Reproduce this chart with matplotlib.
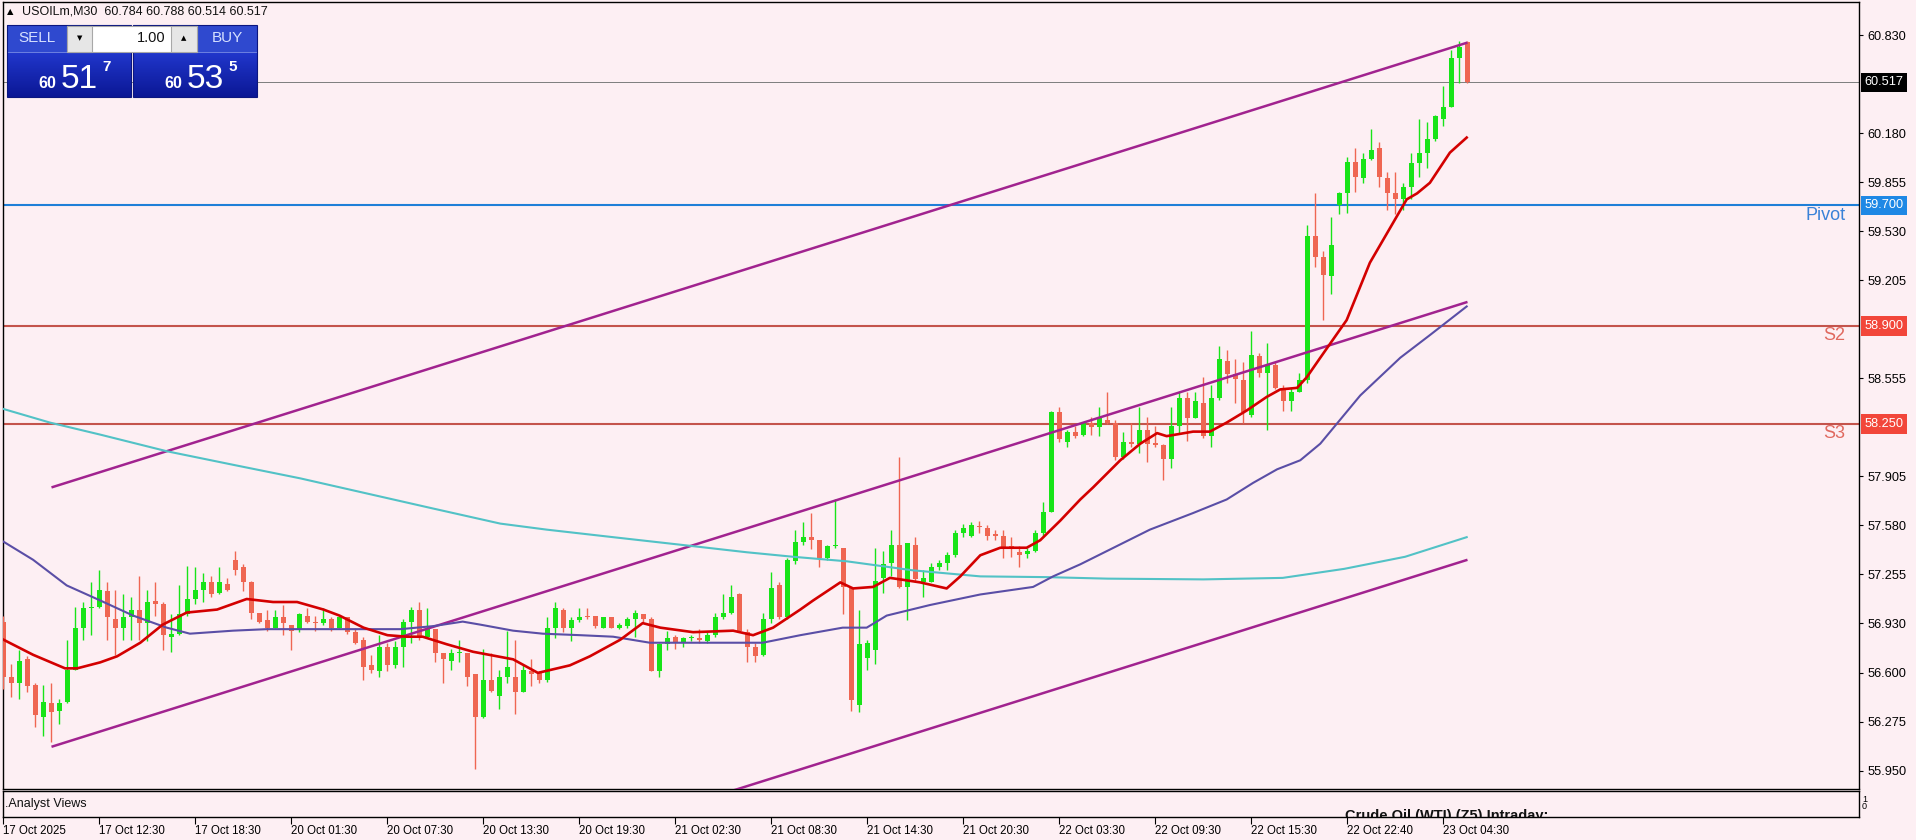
import numpy as np
import matplotlib
matplotlib.use("Agg")
import matplotlib.pyplot as plt
import matplotlib.transforms as mtransforms
from matplotlib.patches import Rectangle
from matplotlib.colors import LinearSegmentedColormap

plt.rcParams['font.family'] = ['Liberation Sans', 'DejaVu Sans']

# ---------------- data ----------------
symbol = "USOILm"
timeframe = "M30"

opens = [56.94, 56.57, 56.53, 56.69, 56.52, 56.31, 56.40, 56.35, 56.41, 56.62,
         56.90, 57.03, 57.04, 57.14, 56.96, 56.90, 56.97, 57.02, 56.93, 57.08,
         57.06, 56.84, 56.86, 56.99, 57.09, 57.15, 57.20, 57.13, 57.19, 57.35,
         57.30, 57.20, 57.00, 56.95, 56.90, 56.97, 56.92, 56.89, 56.98, 56.94,
         56.93, 56.96, 56.90, 56.97, 56.87, 56.82, 56.65, 56.61, 56.77, 56.65,
         56.77, 56.94, 57.02, 56.84, 56.89, 56.73, 56.68, 56.73, 56.73, 56.59,
         56.31, 56.55, 56.45, 56.57, 56.57, 56.47, 56.61, 56.60, 56.55, 56.90,
         57.02, 56.90, 56.95, 56.98, 56.98, 56.90, 56.97, 56.90, 56.91, 56.96,
         56.99, 56.96, 56.61, 56.79, 56.84, 56.80, 56.83, 56.83, 56.81, 56.85,
         56.97, 57.00, 57.12, 56.87, 56.77, 56.72, 56.96, 57.18, 56.97, 57.34,
         57.47, 57.50, 57.48, 57.36, 57.44, 57.43, 57.16, 56.39, 56.70, 56.75,
         57.23, 57.33, 57.45, 57.17, 57.45, 57.20, 57.20, 57.30, 57.33, 57.38,
         57.53, 57.51, 57.575, 57.56, 57.52, 57.51, 57.44, 57.40, 57.39, 57.41,
         57.53, 57.67, 58.33, 58.13, 58.20, 58.18, 58.26, 58.23, 58.28, 58.26,
         58.03, 58.13, 58.12, 58.21, 58.125, 58.11, 58.02, 58.24, 58.42, 58.29,
         58.39, 58.17, 58.42, 58.67, 58.58, 58.54, 58.31, 58.70, 58.59, 58.64,
         58.48, 58.40, 58.46, 58.54, 59.50, 59.36, 59.23, 59.70, 59.78, 59.99,
         59.88, 60.01, 60.08, 59.88, 59.78, 59.74, 59.82, 59.98, 60.05, 60.14,
         60.27, 60.35, 60.68, 60.784]
highs = [56.98, 56.66, 56.75, 56.71, 56.53, 56.52, 56.53, 56.43, 56.82, 57.04,
         57.07, 57.20, 57.28, 57.20, 57.15, 57.12, 57.10, 57.24, 57.15, 57.20,
         57.07, 56.99, 57.18, 57.31, 57.30, 57.26, 57.24, 57.30, 57.23, 57.41,
         57.32, 57.21, 57.00, 57.02, 57.02, 57.05, 56.92, 57.00, 57.03, 56.98,
         57.03, 56.97, 56.98, 56.97, 56.90, 56.84, 56.72, 56.85, 56.80, 56.81,
         56.96, 57.04, 57.07, 57.03, 56.89, 56.73, 56.76, 56.82, 56.73, 56.59,
         56.76, 56.73, 56.62, 56.88, 56.82, 56.65, 56.69, 56.61, 56.97, 57.07,
         57.03, 56.97, 57.03, 57.03, 56.98, 56.97, 56.97, 56.93, 56.97, 57.02,
         56.99, 56.97, 56.80, 56.88, 56.85, 56.84, 56.85, 56.89, 56.87, 57.00,
         57.12, 57.18, 57.13, 56.89, 56.80, 57.00, 57.27, 57.20, 57.36, 57.55,
         57.60, 57.66, 57.48, 57.45, 57.75, 57.43, 57.17, 57.02, 56.82, 57.43,
         57.41, 57.55, 58.03, 57.46, 57.50, 57.28, 57.33, 57.35, 57.40, 57.55,
         57.59, 57.60, 57.61, 57.58, 57.55, 57.55, 57.50, 57.44, 57.43, 57.55,
         57.73, 58.34, 58.36, 58.21, 58.24, 58.26, 58.30, 58.36, 58.46, 58.28,
         58.20, 58.26, 58.36, 58.30, 58.24, 58.12, 58.36, 58.46, 58.46, 58.46,
         58.56, 58.51, 58.77, 58.74, 58.68, 58.66, 58.87, 58.72, 58.79, 58.66,
         58.51, 58.49, 58.59, 59.57, 59.78, 59.40, 59.62, 59.79, 60.02, 60.08,
         60.05, 60.21, 60.12, 59.92, 59.92, 59.85, 60.05, 60.27, 60.25, 60.30,
         60.49, 60.73, 60.79, 60.788]
lows = [56.49, 56.44, 56.43, 56.47, 56.24, 56.18, 56.14, 56.26, 56.40, 56.62,
        56.82, 56.85, 57.03, 56.82, 56.72, 56.82, 56.82, 56.82, 56.81, 56.98,
        56.75, 56.74, 56.85, 56.98, 57.06, 57.07, 57.10, 57.12, 57.14, 57.25,
        57.14, 56.96, 56.93, 56.88, 56.90, 56.85, 56.75, 56.87, 56.93, 56.88,
        56.92, 56.88, 56.90, 56.86, 56.79, 56.55, 56.60, 56.57, 56.61, 56.63,
        56.64, 56.80, 56.82, 56.83, 56.67, 56.53, 56.62, 56.67, 56.51, 55.96,
        56.30, 56.47, 56.36, 56.53, 56.33, 56.47, 56.51, 56.53, 56.54, 56.83,
        56.87, 56.81, 56.94, 56.96, 56.90, 56.90, 56.90, 56.89, 56.90, 56.84,
        56.94, 56.61, 56.57, 56.75, 56.76, 56.77, 56.81, 56.80, 56.80, 56.84,
        56.96, 56.99, 56.87, 56.67, 56.67, 56.71, 56.93, 56.96, 56.96, 57.32,
        57.45, 57.42, 57.30, 57.35, 57.43, 56.99, 56.35, 56.34, 56.62, 56.66,
        57.13, 57.24, 57.16, 56.95, 57.20, 57.10, 57.20, 57.28, 57.28, 57.37,
        57.50, 57.50, 57.53, 57.48, 57.48, 57.36, 57.37, 57.30, 57.36, 57.40,
        57.51, 57.67, 58.13, 58.10, 58.16, 58.17, 58.18, 58.17, 58.25, 58.01,
        58.02, 58.10, 58.06, 58.00, 58.10, 57.88, 57.96, 58.19, 58.14, 58.29,
        58.16, 58.10, 58.41, 58.52, 58.39, 58.26, 58.30, 58.56, 58.21, 58.48,
        58.34, 58.34, 58.46, 58.52, 59.29, 58.94, 59.11, 59.64, 59.65, 59.79,
        59.85, 60.00, 59.82, 59.67, 59.64, 59.67, 59.74, 59.89, 59.95, 60.13,
        60.23, 60.35, 60.51, 60.514]
closes = [56.57, 56.53, 56.68, 56.51, 56.32, 56.41, 56.34, 56.40, 56.62, 56.90,
          57.03, 57.04, 57.15, 56.97, 56.90, 56.97, 57.02, 56.93, 57.07, 57.06,
          56.85, 56.86, 56.99, 57.09, 57.15, 57.20, 57.12, 57.20, 57.15, 57.28,
          57.20, 57.00, 56.94, 56.90, 56.97, 56.93, 56.88, 56.99, 56.94, 56.93,
          56.96, 56.90, 56.97, 56.87, 56.80, 56.64, 56.62, 56.77, 56.65, 56.77,
          56.94, 57.02, 56.84, 56.89, 56.73, 56.69, 56.73, 56.735, 56.57, 56.31,
          56.55, 56.48, 56.57, 56.64, 56.47, 56.62, 56.59, 56.55, 56.90, 57.03,
          56.90, 56.95, 56.97, 56.97, 56.91, 56.97, 56.90, 56.92, 56.96, 57.00,
          56.96, 56.61, 56.79, 56.83, 56.80, 56.83, 56.835, 56.82, 56.85, 56.97,
          57.00, 57.10, 56.88, 56.77, 56.71, 56.96, 57.16, 56.97, 57.35, 57.47,
          57.50, 57.48, 57.36, 57.44, 57.45, 57.17, 56.42, 56.79, 56.80, 57.21,
          57.32, 57.45, 57.17, 57.46, 57.22, 57.23, 57.30, 57.33, 57.38, 57.53,
          57.56, 57.58, 57.565, 57.51, 57.51, 57.43, 57.43, 57.38, 57.41, 57.53,
          57.67, 58.33, 58.15, 58.20, 58.17, 58.26, 58.23, 58.29, 58.26, 58.03,
          58.13, 58.12, 58.21, 58.12, 58.11, 58.02, 58.24, 58.42, 58.29, 58.40,
          58.17, 58.42, 58.68, 58.58, 58.55, 58.33, 58.71, 58.59, 58.64, 58.49,
          58.40, 58.46, 58.54, 59.50, 59.36, 59.24, 59.44, 59.78, 59.99, 59.89,
          60.01, 60.07, 59.89, 59.78, 59.74, 59.82, 59.98, 60.05, 60.14, 60.29,
          60.35, 60.68, 60.75, 60.517]

# moving averages: (bar index, price)
ma_fast_points = [(0, 56.82), (3.7, 56.72), (7.7, 56.63), (9.2, 56.63), (12.1, 56.67),
                  (14.2, 56.71), (17.1, 56.80), (19.9, 56.92), (22.9, 57.00), (26.7, 57.02),
                  (30.4, 57.09), (33.7, 57.07), (36.7, 57.07), (40, 57.02), (42, 56.98),
                  (45, 56.90), (48, 56.85), (50.4, 56.84), (52.4, 56.84), (55.4, 56.79),
                  (58.7, 56.74), (61.7, 56.71), (63.7, 56.69), (66.8, 56.60), (70.8, 56.65),
                  (73.3, 56.71), (77.1, 56.82), (79.9, 56.93), (82.1, 56.90), (86.2, 56.87),
                  (91.2, 56.88), (93.7, 56.85), (96.2, 56.90), (99.6, 57.02), (101.2, 57.08),
                  (104.6, 57.20), (106.2, 57.16), (108.7, 57.17), (110.8, 57.23), (112.1, 57.22),
                  (114.6, 57.20), (117.9, 57.16), (119.6, 57.24), (122.1, 57.38), (124.6, 57.43),
                  (127.9, 57.43), (129.6, 57.48), (132.1, 57.61), (134.6, 57.75), (136.2, 57.83),
                  (139.6, 58.01), (142.1, 58.12), (144.2, 58.19), (145.4, 58.17), (148.7, 58.20),
                  (150.8, 58.20), (152.9, 58.26), (155.4, 58.34), (157.9, 58.43), (159.6, 58.48),
                  (161.7, 58.49), (162.9, 58.56), (164.6, 58.69), (167.9, 58.94), (170.8, 59.32),
                  (175.4, 59.74), (176.7, 59.78), (178.3, 59.85), (180.8, 60.05), (182.9, 60.15)]
ma_mid_points = [(0, 57.47), (3.7, 57.35), (7.9, 57.18), (12.1, 57.08), (16.2, 56.98),
                 (20.4, 56.90), (23.3, 56.86), (28.7, 56.88), (32.9, 56.89), (41.2, 56.89),
                 (49.6, 56.89), (53.7, 56.91), (57.4, 56.94), (59.6, 56.92), (63.7, 56.88),
                 (67.4, 56.86), (72.1, 56.85), (76.2, 56.84), (80.8, 56.80), (88.7, 56.80),
                 (94.9, 56.80), (99.6, 56.85), (104.9, 56.90), (107.9, 56.90), (110.4, 56.98),
                 (115.8, 57.05), (122.1, 57.12), (128.7, 57.17), (131.2, 57.24), (134.6, 57.32),
                 (143.3, 57.55), (148.7, 57.66), (152.9, 57.75), (156.2, 57.86), (159.2, 57.95),
                 (162.1, 58.01), (164.6, 58.12), (169.6, 58.44), (174.6, 58.69), (178.3, 58.84),
                 (182.9, 59.03)]
ma_slow_points = [(0, 58.35), (5.8, 58.26), (12.1, 58.18), (20.4, 58.07), (28.7, 57.98),
                  (37.1, 57.89), (45.4, 57.79), (53.7, 57.69), (62.1, 57.59), (67.9, 57.55),
                  (76.2, 57.50), (84.6, 57.45), (92.9, 57.40), (98.7, 57.37), (105.4, 57.34),
                  (113.7, 57.28), (122.1, 57.24), (130.4, 57.235), (138.0, 57.225), (150.0, 57.22),
                  (159.9, 57.23), (167.6, 57.29), (175.2, 57.37), (182.9, 57.50)]

# trend channel (start bar, end bar) and prices
channel_bars = [6, 183]
channel_upper = [57.83, 60.78]
channel_middle = [56.11, 59.06]
channel_lower = [54.40, 57.35]

level_names = ["Pivot", "S2", "S3"]
level_values = [59.700, 58.900, 58.250]

price_ticks = [60.830, 60.180, 59.855, 59.530, 59.205, 58.555, 57.905,
               57.580, 57.255, 56.930, 56.600, 56.275, 55.950]
bid_price = 60.517
ask_price = 60.535
lot_size = "1.00"

time_label_bars = [0, 12, 24, 36, 48, 60, 72, 84, 96, 108, 120, 132, 144, 156, 168, 180]
time_labels = ["17 Oct 2025", "17 Oct 12:30", "17 Oct 18:30", "20 Oct 01:30",
               "20 Oct 07:30", "20 Oct 13:30", "20 Oct 19:30", "21 Oct 02:30",
               "21 Oct 08:30", "21 Oct 14:30", "21 Oct 20:30", "22 Oct 03:30",
               "22 Oct 09:30", "22 Oct 15:30", "22 Oct 22:40", "23 Oct 04:30"]

# ---------------- style ----------------
BG = "#fdeff3"
GREEN = "#18e418"
RED = "#ef6652"

W, H = 1916, 840
fig = plt.figure(figsize=(W / 100, H / 100), dpi=100, facecolor=BG)


def px_rect(l, t, r, b):
    return [l / W, 1 - b / H, (r - l) / W, (b - t) / H]


ax = fig.add_axes(px_rect(2.5, 2, 1859, 789), facecolor=BG)
ax2 = fig.add_axes(px_rect(2.5, 791, 1859, 817), facecolor=BG, sharex=ax)

o = np.array(opens); h = np.array(highs); l = np.array(lows); c = np.array(closes)
x = np.arange(len(o))
cols = np.where(c >= o, GREEN, RED)

# horizontal levels
ax.axhline(bid_price, color="#7d7d7d", lw=0.7, zorder=1)
level_colors = ["#1f7fd8", "#c4544c", "#c4544c"]
for v, col in zip(level_values, level_colors):
    ax.axhline(v, color=col, lw=1.5, zorder=1)

# channel
for ys in (channel_upper, channel_middle, channel_lower):
    ax.plot(channel_bars, ys, color="#a1238f", lw=1.8, zorder=5, solid_capstyle='butt')

# candles
ax.vlines(x, l, h, colors=cols, lw=1.0, zorder=3)
body_bot = np.minimum(o, c)
body_h = np.maximum(np.abs(c - o), 0.006)
ax.bar(x, body_h, bottom=body_bot, width=0.62, color=cols, lw=0, zorder=4)

# moving averages
for pts, col, lw in ((ma_slow_points, "#52c2c6", 1.5),
                     (ma_mid_points, "#5a4ea6", 1.5),
                     (ma_fast_points, "#d30000", 1.9)):
    bx, by = zip(*pts)
    ax.plot(bx, by, color=col, lw=lw, zorder=6, solid_joinstyle='round')

ax.set_xlim(-0.125, 231.94)
ax.set_ylim(55.83, 61.049)

# right price axis
ax.yaxis.tick_right()
ax.set_yticks(price_ticks)
ax.set_yticklabels([f"{v:.3f}" for v in price_ticks])
ax.tick_params(axis='y', direction='out', length=3, width=0.8, pad=3, labelsize=9.2, colors='black')
ax.tick_params(axis='x', bottom=False, labelbottom=False)
for sp in ax.spines.values():
    sp.set_color('black'); sp.set_linewidth(1.0)

trans = mtransforms.blended_transform_factory(ax.transAxes, ax.transData)
tag_specs = [(bid_price, "#000000")] + list(zip(level_values, ["#1e88e5", "#f2463a", "#f2463a"]))
for val, fc in tag_specs:
    ax.text(1.0030, val, f"{val:.3f}", transform=trans, ha='left', va='center', fontsize=9.2,
            color='white', bbox=dict(boxstyle='square,pad=0.28', fc=fc, ec='none'),
            clip_on=False, zorder=10)

label_colors = ["#3a82d8", "#e0695f", "#e0695f"]
for name, val, col in zip(level_names, level_values, label_colors):
    ax.text(0.9928, val - 0.008, name, transform=trans, ha='right', va='top', fontsize=13,
            color=col, zorder=7)

# sub panel
ax2.set_ylim(0, 1)
ax2.set_yticks([])
ax2.set_xticks(time_label_bars)
ax2.set_xticklabels(time_labels, ha='left', fontsize=8.3)
ax2.tick_params(axis='x', direction='out', length=5, width=0.8, pad=1, colors='black')
for sp in ax2.spines.values():
    sp.set_color('black'); sp.set_linewidth(1.0)
ax2.text(0.7231, -0.12, "Crude Oil (WTI) (Z5) Intraday:", transform=ax2.transAxes,
         ha='left', va='baseline', fontsize=10.5, fontweight='bold', color='#111111', clip_on=True)

# ---------------- overlay (pixel coordinates) ----------------
ov = fig.add_axes([0, 0, 1, 1], zorder=20)
ov.set_axis_off()

ov.text(5, 804, ".Analyst Views", va='center', ha='left', fontsize=9, color='#111111')
ov.text(1862, 799, "1", va='center', ha='left', fontsize=6.5)
ov.text(1862, 806.5, "0", va='center', ha='left', fontsize=6.5)

ov.text(7, 12, "\u25b2", va='center', ha='left', fontsize=6, family=['DejaVu Sans'])
ov.text(22, 12, f"{symbol},{timeframe}  {opens[-1]:.3f} {highs[-1]:.3f} {lows[-1]:.3f} {closes[-1]:.3f}",
        va='center', ha='left', fontsize=9, color='#111111')

grad = LinearSegmentedColormap.from_list("g", ["#2137cc", "#0b1795"])
for (lft, rgt, label, price) in ((7, 131, "SELL", bid_price), (133, 257, "BUY", ask_price)):
    ov.imshow(np.linspace(0, 1, 60)[:, None], extent=(lft, rgt, 97, 52), origin='upper',
              cmap=grad, aspect='auto', zorder=1)
    ov.add_patch(Rectangle((lft, 25), rgt - lft, 27, fc="#2f49cf", ec='none', zorder=1))
    ov.add_patch(Rectangle((lft, 52), rgt - lft, 0.8, fc="#6a7ee0", ec='none', zorder=2))
    ov.add_patch(Rectangle((lft, 25), rgt - lft, 72, fc='none', ec="#0b1680", lw=0.8, zorder=3))
    hx = lft + 30 if label == "SELL" else rgt - 30
    ov.text(hx, 38.5, label, ha='center', va='center', fontsize=11, color="#d6e0ff", zorder=4)
    s = f"{price:.3f}"
    big_int, frac = s.split(".")
    ov.text(lft + 31, 88, big_int, ha='left', va='baseline', fontsize=11.5, fontweight='bold',
            color='white', zorder=4)
    ov.text(lft + 54, 88.5, frac[:2], ha='left', va='baseline', fontsize=24, color='white', zorder=4)
    ov.text(lft + 95, 60, frac[2], ha='left', va='top', fontsize=11, fontweight='bold',
            color='white', zorder=4)

# lot selector
ov.add_patch(Rectangle((67, 26), 130, 25.5, fc='white', ec="#a8a8a8", lw=0.8, zorder=5))
ov.add_patch(Rectangle((67, 26), 25, 25.5, fc="#e6e6e6", ec="#a8a8a8", lw=0.8, zorder=6))
ov.add_patch(Rectangle((171, 26), 26, 25.5, fc="#e6e6e6", ec="#a8a8a8", lw=0.8, zorder=6))
ov.text(79.5, 38.5, "\u25bc", ha='center', va='center', fontsize=5, family=['DejaVu Sans'], zorder=7)
ov.text(184, 38, "\u25b2", ha='center', va='center', fontsize=5, family=['DejaVu Sans'], zorder=7)
ov.text(166, 38.5, lot_size, ha='right', va='center', fontsize=10.5, color='#111111', zorder=7)

ov.set_xlim(0, W)
ov.set_ylim(H, 0)

fig.savefig("out.png", dpi=100, facecolor=BG)
